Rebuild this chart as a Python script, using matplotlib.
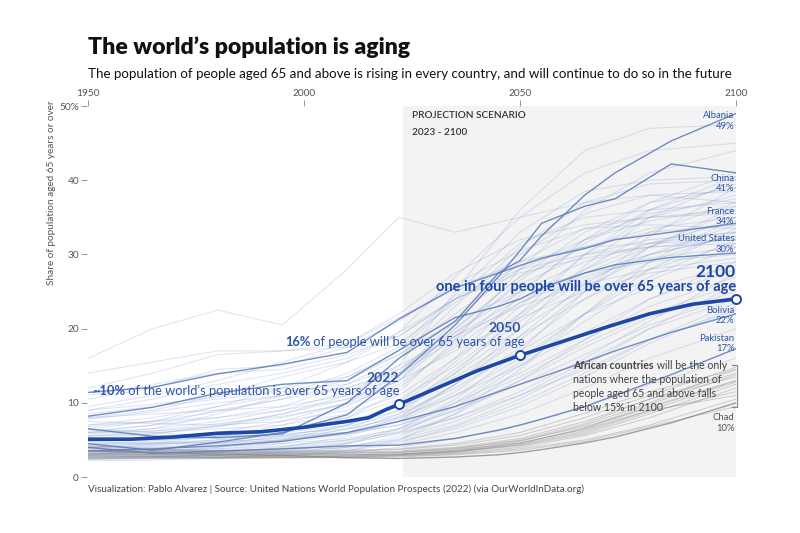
import matplotlib
matplotlib.use("Agg")
import matplotlib.pyplot as plt

plt.rcParams['font.family'] = ['Lato', 'DejaVu Sans']

# ---------------- data ----------------
grid_years = [1950, 1965, 1980, 1995, 2010, 2022, 2035, 2050, 2065, 2080, 2100]

# other countries (share of population aged 65+, %)
bg_blue = {
    "c01": [3.0, 3.2, 3.5, 3.8, 4.2, 5.0, 7.0, 10.5, 15.0, 20.0, 26.0],
    "c02": [4.0, 4.2, 4.5, 5.0, 5.8, 7.5, 11.0, 16.0, 22.0, 27.0, 32.0],
    "c03": [5.5, 6.0, 6.5, 7.0, 8.5, 11.0, 16.0, 22.0, 27.5, 31.0, 35.0],
    "c04": [7.0, 8.0, 9.5, 11.0, 13.0, 16.5, 22.0, 28.0, 32.0, 34.5, 36.5],
    "c05": [9.0, 10.5, 12.5, 14.0, 16.0, 19.5, 24.0, 28.5, 31.0, 33.0, 34.0],
    "c06": [3.5, 3.3, 3.2, 3.6, 4.5, 6.5, 10.0, 15.5, 22.0, 28.0, 33.5],
    "c07": [2.8, 2.9, 3.1, 3.4, 4.0, 5.5, 8.5, 13.0, 18.5, 24.0, 29.0],
    "c08": [6.0, 6.5, 7.5, 9.0, 11.5, 14.5, 20.0, 27.0, 33.0, 37.0, 39.0],
    "c09": [8.0, 9.0, 11.0, 13.5, 15.5, 18.0, 23.5, 30.0, 35.5, 38.0, 38.5],
    "c10": [4.5, 4.8, 5.5, 6.5, 8.0, 10.5, 15.0, 21.5, 28.0, 33.0, 37.0],
    "c11": [3.2, 3.0, 3.3, 4.0, 5.5, 7.5, 12.5, 20.0, 28.5, 35.0, 40.0],
    "c12": [2.5, 2.7, 3.0, 3.5, 4.5, 6.0, 9.5, 15.0, 21.0, 26.5, 31.0],
    "c13": [5.0, 5.2, 5.8, 6.0, 7.0, 9.0, 13.5, 19.0, 24.0, 28.0, 31.5],
    "c14": [10.5, 12.0, 14.5, 15.0, 17.5, 21.0, 26.0, 30.5, 33.5, 35.0, 36.0],
    "c15": [6.5, 6.0, 5.5, 5.8, 6.5, 8.0, 11.0, 15.0, 19.5, 24.0, 28.0],
    "c16": [4.2, 4.0, 4.1, 4.5, 5.2, 6.5, 9.0, 12.5, 16.5, 20.5, 24.5],
    "c17": [3.8, 3.6, 3.5, 3.6, 4.0, 4.8, 6.5, 9.5, 13.5, 18.0, 23.0],
    "c18": [7.5, 7.2, 7.0, 7.5, 9.0, 12.0, 18.0, 25.0, 31.5, 36.0, 40.5],
    "c19": [5.8, 6.5, 8.5, 11.0, 14.0, 17.5, 24.5, 33.0, 38.5, 40.0, 40.5],
    "c20": [3.0, 3.4, 4.0, 5.0, 7.0, 10.0, 16.0, 24.5, 32.0, 37.0, 41.0],
    "c21": [8.5, 9.5, 10.5, 11.5, 12.5, 15.0, 19.0, 23.0, 26.0, 28.0, 29.5],
    "c22": [4.8, 5.0, 5.5, 6.2, 7.5, 9.5, 14.0, 20.0, 25.5, 30.0, 34.0],
    "c23": [2.6, 2.5, 2.6, 3.0, 3.6, 4.4, 6.0, 8.5, 12.0, 16.0, 20.0],
    "c24": [3.4, 3.5, 3.8, 4.2, 5.0, 6.0, 8.0, 11.0, 14.5, 18.5, 22.5],
    "c25": [12.0, 14.0, 16.5, 17.0, 18.0, 21.5, 25.5, 29.0, 31.0, 31.5, 32.0],
    "c26": [6.0, 7.0, 9.0, 10.5, 12.0, 14.0, 18.5, 23.5, 27.0, 29.5, 31.0],
    "c27": [9.5, 11.0, 13.0, 15.5, 18.0, 22.0, 27.5, 32.0, 34.0, 35.0, 35.5],
    "c28": [5.2, 5.0, 5.3, 5.5, 6.0, 7.0, 9.5, 13.5, 18.0, 22.0, 26.0],
    "c29": [3.6, 3.8, 4.5, 5.5, 7.0, 9.5, 15.5, 23.0, 30.0, 35.0, 38.0],
    "c30": [7.0, 7.5, 8.0, 9.0, 10.5, 13.0, 17.0, 21.5, 25.0, 27.5, 29.0],
    "c31": [4.0, 4.3, 5.0, 6.0, 8.0, 11.5, 18.5, 28.0, 36.0, 41.0, 44.0],
    "c32": [6.5, 7.5, 9.5, 12.0, 15.5, 19.5, 27.0, 35.0, 41.0, 44.0, 45.0],
    "c33": [2.9, 3.0, 3.3, 3.8, 4.6, 5.8, 8.0, 11.5, 16.0, 21.0, 27.5],
    "c34": [11.0, 12.5, 14.0, 14.5, 16.5, 19.0, 24.0, 27.5, 29.5, 31.0, 32.0],
    "c35": [5.0, 5.5, 6.0, 7.5, 10.0, 14.0, 21.0, 29.0, 33.5, 34.0, 33.5],
    "c36": [4.4, 4.6, 5.0, 5.6, 6.8, 8.5, 12.0, 17.0, 22.0, 25.5, 28.5],
    "c37": [8.0, 8.5, 9.0, 9.5, 11.0, 14.0, 19.5, 26.0, 30.0, 32.0, 33.0],
    "c38": [3.3, 3.2, 3.4, 3.9, 4.8, 6.2, 9.0, 13.0, 17.5, 21.5, 25.0],
    "c39": [6.2, 7.0, 8.0, 9.5, 12.5, 16.0, 23.0, 31.0, 37.0, 39.5, 40.0],
    "c40": [4.6, 4.5, 4.8, 5.2, 6.0, 7.8, 11.5, 17.5, 24.0, 29.0, 33.0],
    "c41": [16.0, 20.0, 22.5, 20.5, 28.0, 35.0, 33.0, 35.0, 37.0, 38.0, 37.0],
    "c42": [14.0, 15.5, 17.0, 17.0, 17.5, 19.0, 24.0, 28.0, 30.0, 31.0, 31.5],
    "c43": [2.2, 2.3, 2.5, 2.8, 3.5, 5.0, 8.5, 14.5, 22.0, 29.0, 35.0],
    "c44": [3.0, 2.8, 2.7, 2.9, 3.3, 4.0, 5.2, 7.0, 9.5, 12.5, 16.0],
    "c45": [5.5, 5.8, 6.8, 8.5, 11.0, 15.0, 25.0, 36.0, 44.0, 47.0, 47.5],
    "c46": [4.0, 4.5, 5.5, 7.0, 9.5, 13.0, 20.0, 27.0, 31.0, 33.5, 35.0],
    "c47": [3.2, 3.4, 3.8, 4.5, 5.8, 8.0, 12.5, 19.0, 26.0, 31.0, 36.0],
    "c48": [6.8, 7.5, 8.8, 10.5, 13.5, 17.0, 24.0, 31.5, 35.0, 36.0, 37.0],
    "c49": [2.7, 2.8, 3.0, 3.2, 3.8, 4.6, 6.8, 10.0, 14.0, 18.5, 23.5],
    "c50": [5.2, 5.8, 7.0, 8.5, 10.5, 13.5, 19.5, 25.0, 29.0, 31.5, 33.0],
    "c51": [4.8, 4.6, 4.6, 5.0, 6.0, 8.5, 14.0, 22.0, 30.0, 36.0, 39.5],
    "c52": [3.5, 3.6, 4.0, 4.8, 6.5, 9.0, 14.5, 21.0, 26.5, 30.0, 32.5],
    "c53": [7.8, 8.8, 10.0, 11.0, 12.0, 14.5, 19.0, 24.0, 27.5, 30.0, 32.5],
    "c54": [3.9, 4.0, 4.3, 4.9, 5.8, 7.0, 10.0, 14.0, 18.5, 23.0, 27.0],
    "c55": [5.6, 6.2, 7.2, 8.2, 9.8, 12.5, 17.5, 23.5, 28.0, 31.5, 34.5],
    "c56": [2.4, 2.6, 2.9, 3.3, 4.0, 5.2, 7.5, 11.0, 15.5, 20.0, 24.0],
    "c57": [9.0, 9.8, 10.8, 12.0, 13.5, 16.5, 21.0, 25.0, 27.5, 29.0, 30.0],
    "c58": [6.0, 6.2, 6.8, 8.0, 10.0, 13.0, 19.0, 26.5, 32.0, 35.5, 37.5],
    "c59": [4.3, 4.4, 4.7, 5.3, 6.4, 8.2, 12.5, 18.5, 25.0, 31.0, 36.5],
    "c60": [3.1, 3.3, 3.6, 4.1, 5.0, 6.5, 10.5, 17.0, 25.0, 32.5, 39.0],
}

# African countries
bg_gray = {
    "a01": [3.5, 3.2, 3.0, 3.0, 3.0, 3.1, 3.6, 4.8, 7.0, 10.0, 14.5],
    "a02": [3.0, 3.0, 2.8, 2.7, 2.8, 2.9, 3.2, 4.0, 5.6, 8.0, 12.0],
    "a03": [2.6, 2.7, 2.6, 2.6, 2.7, 2.8, 3.1, 3.8, 5.0, 7.0, 10.5],
    "a04": [4.2, 3.8, 3.5, 3.4, 3.4, 3.5, 4.0, 5.2, 7.5, 10.5, 13.5],
    "a05": [2.9, 2.8, 2.7, 2.8, 2.9, 3.0, 3.5, 4.6, 6.5, 9.5, 13.0],
    "a06": [3.2, 3.1, 3.0, 3.1, 3.2, 3.3, 3.8, 5.0, 7.2, 10.5, 14.0],
    "a07": [2.4, 2.5, 2.5, 2.6, 2.6, 2.7, 3.0, 3.6, 4.8, 6.8, 9.5],
    "a08": [3.8, 3.5, 3.3, 3.3, 3.5, 3.7, 4.3, 5.6, 8.0, 11.0, 14.8],
    "a09": [2.7, 2.8, 2.9, 3.0, 3.0, 3.1, 3.4, 4.2, 5.8, 8.5, 12.5],
    "a10": [3.4, 3.3, 3.2, 3.2, 3.3, 3.4, 3.9, 4.9, 6.8, 9.3, 13.0],
    "a11": [4.0, 3.7, 3.6, 3.5, 3.6, 3.8, 4.5, 6.0, 8.6, 11.5, 14.5],
    "a12": [3.1, 3.0, 2.9, 2.9, 3.0, 3.1, 3.5, 4.3, 6.0, 8.8, 11.5],
    "a13": [2.8, 2.7, 2.6, 2.6, 2.7, 2.9, 3.3, 4.4, 6.2, 9.0, 12.8],
    "a14": [3.6, 3.4, 3.3, 3.2, 3.2, 3.3, 3.7, 4.6, 6.4, 9.0, 11.0],
    "a15": [2.5, 2.6, 2.7, 2.7, 2.8, 3.0, 3.4, 4.5, 6.6, 9.8, 13.8],
}

hl_years = [1950, 1965, 1980, 1995, 2010, 2022, 2035, 2045, 2050, 2055, 2065, 2072, 2085, 2100]
albania  = [6.5, 5.5, 5.3, 5.8, 10.0, 16.0, 21.0, 27.5, 29.2, 32.5, 38.0, 41.0, 45.3, 49.0]
china    = [4.5, 3.6, 4.7, 6.0, 8.4, 13.7, 20.5, 27.0, 30.5, 34.2, 36.5, 37.5, 42.2, 41.0]
france   = [11.4, 12.1, 13.9, 15.2, 16.8, 21.3, 25.5, 27.5, 28.5, 29.5, 30.8, 32.0, 33.0, 34.2]
usa      = [8.2, 9.4, 11.3, 12.5, 13.0, 17.1, 21.5, 23.0, 24.0, 25.5, 27.5, 28.6, 29.6, 30.2]
bolivia  = [3.5, 3.8, 4.2, 4.8, 6.0, 7.5, 9.5, 11.5, 12.5, 13.5, 15.5, 17.0, 19.5, 22.0]
pakistan = [4.0, 3.2, 3.5, 3.8, 4.2, 4.3, 5.2, 6.3, 7.0, 7.8, 9.5, 11.0, 13.8, 17.3]
chad     = [3.5, 3.3, 3.1, 2.9, 2.6, 2.5, 2.7, 3.0, 3.3, 3.7, 4.6, 5.4, 7.3, 10.0]

hl_names = ["Albania", "China", "France", "United States", "Bolivia", "Pakistan"]
hl_series = [albania, china, france, usa, bolivia, pakistan]
hl_final = ["49%", "41%", "34%", "30%", "22%", "17%"]

world_years = [1950, 1960, 1970, 1980, 1990, 2000, 2010, 2015, 2019, 2022,
               2030, 2040, 2050, 2060, 2070, 2080, 2090, 2100]
world = [5.1, 5.1, 5.4, 5.9, 6.1, 6.7, 7.5, 8.0, 9.1, 9.8,
         11.8, 14.3, 16.4, 18.3, 20.2, 22.0, 23.3, 24.0]
world_marks = [2022, 2050, 2100]

# ---------------- figure ----------------
fig = plt.figure(figsize=(8, 5.33), dpi=100)
ax = fig.add_axes([0.11, 0.105, 0.81, 0.696])
ax.set_xlim(1950, 2100)
ax.set_ylim(0, 50)

BLUE_TXT = "#2d55a8"
DARK_BLUE = "#1c47a6"
HL_BLUE = "#5a79b9"

ax.axvspan(2023, 2100, color="#f3f3f3", zorder=0, lw=0)

for name, vals in bg_blue.items():
    ax.plot(grid_years, vals, color="#6d8cc8", alpha=0.22, lw=0.8, zorder=1)
for name, vals in bg_gray.items():
    ax.plot(grid_years, vals, color="#808080", alpha=0.32, lw=0.8, zorder=1)

for vals in hl_series:
    ax.plot(hl_years, vals, color=HL_BLUE, alpha=0.85, lw=1.0, zorder=2)
ax.plot(hl_years, chad, color="#8a8a8a", alpha=0.8, lw=1.0, zorder=2)

ax.plot(world_years, world, color=DARK_BLUE, lw=2.6, zorder=4, solid_capstyle="round")
for yr in world_marks:
    v = world[world_years.index(yr)]
    ax.plot([yr], [v], marker="o", ms=6.5, mfc="white", mec=DARK_BLUE, mew=1.4,
            zorder=5, clip_on=False)

# ---------------- axes styling ----------------
for s in ax.spines.values():
    s.set_visible(False)
ax.spines["left"].set_position(("outward", 1))
ax.xaxis.set_ticks_position("top")
ax.set_xticks([1950, 2000, 2050, 2100])
ax.set_xticklabels(["1950", "2000", "2050", "2100"])
ax.set_yticks([0, 10, 20, 30, 40, 50])
ax.set_yticklabels(["0", "10", "20", "30", "40", "50%"])
ax.tick_params(axis="x", length=4, width=0.6, color="#888888", labelsize=7.3,
               labelcolor="#555555", pad=2)
ax.tick_params(axis="y", length=4, width=0.6, color="#888888", labelsize=7.3,
               labelcolor="#555555", pad=1.5)

fig.text(0.065, 0.812, "Share of population aged 65 years or over", rotation=90,
         ha="center", va="top", fontsize=7.2, color="#555555")

# ---------------- titles ----------------
fig.text(0.11, 0.911, "The world’s population is aging", fontsize=16.6,
         fontweight="heavy", color="#111111", ha="left", va="center")
fig.text(0.11, 0.862, "The population of people aged 65 and above is rising in every country, "
         "and will continue to do so in the future", fontsize=9.62, color="#111111",
         ha="left", va="center")
fig.text(0.11, 0.082, "Visualization: Pablo Alvarez | Source: United Nations World Population "
         "Prospects (2022) (via OurWorldInData.org)", fontsize=7.1, color="#444444",
         ha="left", va="center")

# ---------------- annotations ----------------
ax.text(2025, 48.7, "PROJECTION SCENARIO", fontsize=7.2, fontweight="semibold",
        color="#333333", va="center", ha="left")
ax.text(2025, 46.4, "2023 - 2100", fontsize=7.2, fontweight="semibold",
        color="#333333", va="center", ha="left")

# 2022
ax.text(2022, 13.3, "2022", fontsize=10, fontweight="bold", color=BLUE_TXT,
        ha="right", va="center")
t1 = ax.text(1951.0, 11.6, "~10%", fontsize=9.3, fontweight="bold", color=BLUE_TXT,
             ha="left", va="center")
ax.annotate(" of the world's population is over 65 years of age", xy=(1, 0),
            xycoords=t1, fontsize=9.3, color=BLUE_TXT, ha="left", va="bottom")

# 2050
ax.text(2050.3, 20.1, "2050", fontsize=10, fontweight="bold", color=BLUE_TXT,
        ha="right", va="center")
t2 = ax.text(1995.6, 18.2, "16%", fontsize=9.3, fontweight="bold", color=BLUE_TXT,
             ha="left", va="center")
ax.annotate(" of people will be over 65 years of age", xy=(1, 0), xycoords=t2,
            fontsize=9.3, color=BLUE_TXT, ha="left", va="bottom")

# 2100
ax.text(2100, 27.6, "2100", fontsize=12.5, fontweight="bold", color=DARK_BLUE,
        ha="right", va="center")
ax.text(2100, 25.6, "one in four people will be over 65 years of age", fontsize=10.5,
        fontweight="bold", color=DARK_BLUE, ha="right", va="center")

# country labels
label_y = {"Albania": 48.7, "China": 40.3, "France": 35.8, "United States": 32.1,
           "Bolivia": 22.5, "Pakistan": 18.7}
for name, pct in zip(hl_names, hl_final):
    y = label_y[name]
    ax.text(2099.6, y, name, fontsize=6.8, color=BLUE_TXT, ha="right", va="center")
    ax.text(2099.6, y - 1.4, pct, fontsize=6.8, color=BLUE_TXT, ha="right", va="center")
ax.text(2099.6, 8.0, "Chad", fontsize=6.8, color="#555555", ha="right", va="center")
ax.text(2099.6, 6.6, "10%", fontsize=6.8, color="#555555", ha="right", va="center")

# African annotation
t3 = ax.text(2062.3, 15.1, "African countries", fontsize=7.6, fontweight="bold",
             color="#444444", ha="left", va="center")
ax.annotate(" will be the only", xy=(1, 0), xycoords=t3, fontsize=7.6,
            color="#444444", ha="left", va="bottom")
for i, line in enumerate(["nations where the population of",
                          "people aged 65 and above falls",
                          "below 15% in 2100"]):
    ax.text(2062.3, 13.2 - 1.9 * i, line, fontsize=7.6, color="#444444",
            ha="left", va="center")
ax.plot([2099.0, 2100.3, 2100.3, 2099.0], [15.1, 15.1, 9.5, 9.5], color="#888888",
        lw=0.9, clip_on=False, zorder=6)

fig.savefig("out.png", dpi=100)
